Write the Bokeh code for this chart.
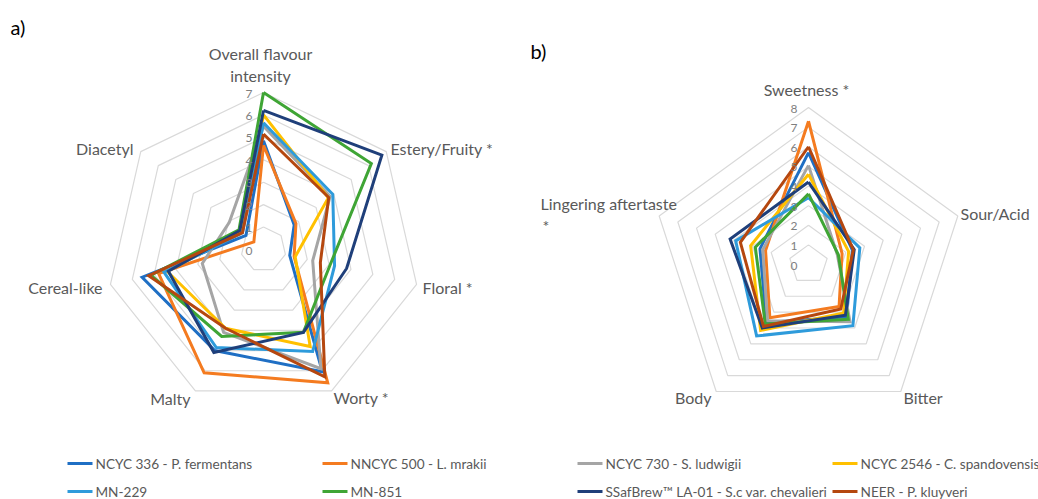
import numpy as np
from bokeh.plotting import figure
from bokeh.models import Range1d
from bokeh.core.properties import value
from bokeh.embed import file_html
from bokeh.resources import INLINE

# ---------------- data ----------------
series_names = ["NCYC 336 - P. fermentans", "NNCYC 500 - L. mrakii",
                "NCYC 730 - S. ludwigii", "NCYC 2546 - C. spandovensis",
                "MN-229", "MN-851",
                "SSafBrew\u2122 LA-01 - S.c var. chevalieri", "NEER - P. kluyveri"]
series_colors = ["#1f6fc4", "#f47b20", "#a5a5a5", "#ffc000",
                 "#2e9bdb", "#3fa535", "#1f3f7a", "#b5470f"]

attrs_a = ["Overall flavour\nintensity", "Estery/Fruity *", "Floral *", "Worty *",
           "Malty", "Cereal-like", "Diacetyl"]
ticks_a = ["0", "1", "2", "3", "4", "5", "6", "7"]
# order of values follows attrs_a
vals_a_ncyc336 = [4.85, 1.75, 1.2, 6.05, 5.0, 5.55, 1.0]
vals_a_ncyc500 = [4.65, 1.85, 1.4, 6.6, 6.1, 4.8, 0.55]
vals_a_ncyc730 = [5.5, 3.8, 2.25, 5.9, 4.1, 2.8, 1.95]
vals_a_ncyc2546 = [6.0, 3.7, 1.45, 4.8, 3.9, 4.4, 1.3]
vals_a_mn229 = [5.65, 3.95, 3.25, 5.05, 4.85, 4.55, 1.2]
vals_a_mn851 = [7.0, 6.15, 3.05, 4.1, 4.3, 5.15, 1.4]
vals_a_la01 = [6.2, 6.75, 3.8, 4.1, 5.1, 4.35, 1.35]
vals_a_neer = [5.15, 3.72, 2.6, 6.3, 3.9, 5.25, 1.2]

attrs_b = ["Sweetness *", "Sour/Acid", "Bitter", "Body", "Lingering aftertaste\n*"]
ticks_b = ["0", "1", "2", "3", "4", "5", "6", "7", "8"]
vals_b_ncyc336 = [5.7, 2.35, 3.3, 3.65, 2.6]
vals_b_ncyc500 = [7.3, 1.8, 2.65, 3.35, 2.3]
vals_b_ncyc730 = [5.05, 1.55, 3.6, 3.55, 2.45]
vals_b_ncyc2546 = [4.6, 2.15, 3.05, 4.15, 3.1]
vals_b_mn229 = [3.4, 2.75, 3.85, 4.5, 3.9]
vals_b_mn851 = [3.6, 1.6, 3.45, 3.75, 2.85]
vals_b_la01 = [4.2, 2.45, 3.2, 4.0, 4.2]
vals_b_neer = [6.0, 2.4, 2.8, 3.9, 3.65]

series_a = [vals_a_ncyc336, vals_a_ncyc500, vals_a_ncyc730, vals_a_ncyc2546,
            vals_a_mn229, vals_a_mn851, vals_a_la01, vals_a_neer]
series_b = [vals_b_ncyc336, vals_b_ncyc500, vals_b_ncyc730, vals_b_ncyc2546,
            vals_b_mn229, vals_b_mn851, vals_b_la01, vals_b_neer]

# ---------------- layout ----------------
W, H = 1038, 499
p = figure(width=W, height=H, output_backend="svg", toolbar_location=None,
           x_range=Range1d(0, W), y_range=Range1d(H, 0),
           x_axis_type=None, y_axis_type=None, min_border=0)
p.outline_line_color = None
p.grid.visible = False
p.background_fill_color = "white"
p.border_fill_color = "white"

FONT = value("Lato")
GRID = "#d9d9d9"
TXT = "#595959"
LAB = "16px"


def radar_xy(vals, cx, cy, unit):
    v = np.asarray(vals, dtype=float)
    n = len(v)
    ang = np.arange(n) * 2 * np.pi / n
    x = cx + v * unit * np.sin(ang)
    y = cy - v * unit * np.cos(ang)
    return list(np.append(x, x[0])), list(np.append(y, y[0]))


def draw_radar(cx, cy, radius, vmax, nattr, series, ticks):
    unit = radius / vmax
    xs, ys = [], []
    for k in range(1, vmax + 1):
        x, y = radar_xy([k] * nattr, cx, cy, unit)
        xs.append(x)
        ys.append(y)
    p.multi_line(xs, ys, line_color=GRID, line_width=1.2)
    for vals, col in zip(series, series_colors):
        x, y = radar_xy(vals, cx, cy, unit)
        p.line(x, y, line_color=col, line_width=3, line_join="miter")
    tv = np.arange(len(ticks))
    p.text(x=[cx - 11] * len(ticks), y=list(cy - tv * unit + 1), text=ticks,
           text_font=FONT, text_font_size="12px", text_color="#7f7f7f",
           text_align="right", text_baseline="middle")


# chart a (heptagon, 0-7)
draw_radar(263, 249, 157, 7, 7, series_a, ticks_a)
# chart b (pentagon, 0-8)
draw_radar(808, 264, 157, 8, 5, series_b, ticks_b)

# category labels chart a
p.text(x=[260], y=[53], text=[attrs_a[0].split("\n")[0]], text_font=FONT,
       text_font_size=LAB, text_color=TXT, text_align="center", text_baseline="middle")
p.text(x=[260], y=[75], text=[attrs_a[0].split("\n")[1]], text_font=FONT,
       text_font_size=LAB, text_color=TXT, text_align="center", text_baseline="middle")
p.text(x=[390, 422, 333], y=[148, 287, 397], text=attrs_a[1:4], text_font=FONT,
       text_font_size=LAB, text_color=TXT, text_align="left", text_baseline="middle")
p.text(x=[190, 102, 133], y=[398, 287, 148], text=attrs_a[4:7], text_font=FONT,
       text_font_size=LAB, text_color=TXT, text_align="right", text_baseline="middle")

# category labels chart b
p.text(x=[806], y=[89], text=[attrs_b[0]], text_font=FONT, text_font_size=LAB,
       text_color=TXT, text_align="center", text_baseline="middle")
p.text(x=[960, 903], y=[213, 397], text=attrs_b[1:3], text_font=FONT, text_font_size=LAB,
       text_color=TXT, text_align="left", text_baseline="middle")
p.text(x=[711], y=[397], text=[attrs_b[3]], text_font=FONT, text_font_size=LAB,
       text_color=TXT, text_align="right", text_baseline="middle")
p.text(x=[540, 542], y=[203, 225], text=attrs_b[4].split("\n"), text_font=FONT,
       text_font_size=LAB, text_color=TXT, text_align="left", text_baseline="middle")

# panel letters
p.text(x=[10, 530], y=[26, 50], text=["a)", "b)"], text_font=FONT, text_font_size="20px",
       text_color="#000000", text_align="left", text_baseline="middle")

# legend (4 columns x 2 rows)
leg_x = [67, 322, 577, 832, 67, 322, 577, 832]
leg_y = [463, 463, 463, 463, 491, 491, 491, 491]
for name, col, lx, ly in zip(series_names, series_colors, leg_x, leg_y):
    p.line([lx, lx + 25], [ly, ly], line_color=col, line_width=3)
    p.text(x=[lx + 28], y=[ly], text=[name], text_font=FONT, text_font_size="13.6px",
           text_color=TXT, text_align="left", text_baseline="middle")

open("out.html", "w").write(file_html(p, INLINE))
